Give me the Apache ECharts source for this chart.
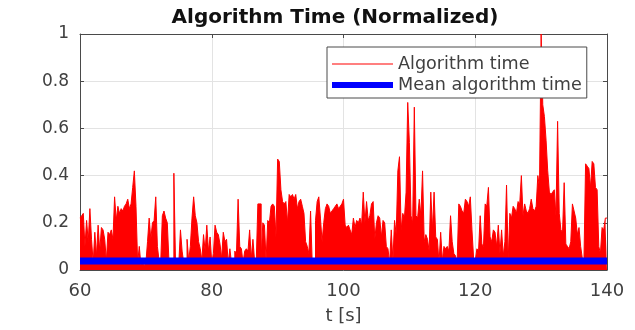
<!DOCTYPE html>
<html>
<head>
<meta charset="utf-8">
<title>Algorithm Time (Normalized)</title>
<script src="https://cdn.jsdelivr.net/npm/echarts@6/dist/echarts.min.js"></script>
<style>
  html, body { margin: 0; padding: 0; background: #fff; }
  #main { width: 635px; height: 330px; }
</style>
</head>
<body>
<div id="main"></div>
<script>
// sample grid of the trace (seconds)
const tStart = 60
const tStep = 0.25

// normalized algorithm time, one value per 0.25 s
const algTime = [
  0.22, 0.23, 0.24, 0.10, 0.21, 0.12, 0.26, 0.13, 0.03, 0.16, 0.06, 0.19, 0.08, 0.18, 0.17, 0.13, 0.04, 0.16, 0.15, 0.17,
  0.13, 0.31, 0.21, 0.27, 0.24, 0.26, 0.25, 0.27, 0.28, 0.30, 0.26, 0.28, 0.35, 0.42, 0.27, 0.03, 0.10, 0.02, 0.03, 0.02,
  0.03, 0.12, 0.22, 0.13, 0.20, 0.21, 0.31, 0.10, 0.04, 0.03, 0.23, 0.25, 0.22, 0.20, 0.04, 0.03, 0.03, 0.41, 0.03, 0.03,
  0.03, 0.17, 0.08, 0.03, 0.03, 0.13, 0.04, 0.10, 0.22, 0.31, 0.23, 0.20, 0.12, 0.09, 0.04, 0.15, 0.08, 0.19, 0.08, 0.14,
  0.03, 0.07, 0.19, 0.16, 0.15, 0.11, 0.05, 0.16, 0.12, 0.13, 0.03, 0.09, 0.03, 0.03, 0.08, 0.07, 0.30, 0.10, 0.09, 0.03,
  0.08, 0.09, 0.08, 0.17, 0.05, 0.13, 0.04, 0.03, 0.28, 0.28, 0.05, 0.20, 0.19, 0.04, 0.21, 0.20, 0.27, 0.28, 0.27, 0.14,
  0.47, 0.46, 0.34, 0.29, 0.28, 0.29, 0.20, 0.32, 0.31, 0.32, 0.30, 0.32, 0.26, 0.29, 0.30, 0.27, 0.24, 0.12, 0.10, 0.07,
  0.25, 0.03, 0.03, 0.21, 0.29, 0.31, 0.22, 0.12, 0.20, 0.26, 0.28, 0.27, 0.24, 0.25, 0.26, 0.27, 0.28, 0.26, 0.27, 0.28,
  0.30, 0.19, 0.18, 0.19, 0.17, 0.15, 0.22, 0.18, 0.21, 0.20, 0.22, 0.19, 0.33, 0.20, 0.29, 0.21, 0.23, 0.28, 0.29, 0.13,
  0.20, 0.23, 0.22, 0.14, 0.21, 0.20, 0.10, 0.09, 0.03, 0.17, 0.04, 0.21, 0.15, 0.42, 0.48, 0.17, 0.24, 0.22, 0.33, 0.71,
  0.54, 0.23, 0.20, 0.69, 0.23, 0.22, 0.30, 0.23, 0.42, 0.12, 0.15, 0.13, 0.08, 0.33, 0.17, 0.33, 0.14, 0.13, 0.03, 0.16,
  0.04, 0.10, 0.09, 0.10, 0.08, 0.23, 0.12, 0.07, 0.06, 0.03, 0.28, 0.27, 0.25, 0.24, 0.30, 0.29, 0.27, 0.31, 0.17, 0.05,
  0.04, 0.09, 0.08, 0.23, 0.11, 0.10, 0.28, 0.27, 0.35, 0.14, 0.12, 0.17, 0.16, 0.10, 0.19, 0.07, 0.17, 0.06, 0.12, 0.36,
  0.04, 0.24, 0.22, 0.27, 0.26, 0.24, 0.29, 0.28, 0.40, 0.23, 0.28, 0.25, 0.24, 0.26, 0.30, 0.26, 0.25, 0.27, 0.40, 0.35,
  1.00, 0.70, 0.65, 0.55, 0.42, 0.33, 0.32, 0.33, 0.34, 0.23, 0.63, 0.24, 0.17, 0.16, 0.37, 0.11, 0.10, 0.09, 0.12, 0.28,
  0.25, 0.22, 0.15, 0.18, 0.10, 0.05, 0.04, 0.45, 0.44, 0.43, 0.35, 0.46, 0.45, 0.35, 0.34, 0.10, 0.07, 0.18, 0.17, 0.22, 0.22
]

// mean line
const meanTime = 0.038
const meanRange = [60, 140]

// axes
const xTicks = [60, 80, 100, 120, 140]
const yTicks = [0, 0.2, 0.4, 0.6, 0.8, 1]

const font = 'DejaVu Sans'
const textColor = '#404040'
const boxColor = '#4a4a4a'

const algData = algTime.map((v, i) => [tStart + i * tStep, v])
const meanData = meanRange.map(t => [t, meanTime])

const myChart = echarts.init(document.getElementById('main'), null, { renderer: 'canvas' })

// the box round the plot: ticks on all four sides, labels only bottom/left
const xBase = {
  type: 'value',
  min: xTicks[0],
  max: xTicks[xTicks.length - 1],
  interval: xTicks[1] - xTicks[0],
  axisLine: { show: true, onZero: false, lineStyle: { color: boxColor, width: 1 } },
  axisTick: { show: true, inside: true, length: 4, lineStyle: { color: boxColor } }
}
const yBase = {
  type: 'value',
  min: yTicks[0],
  max: yTicks[yTicks.length - 1],
  interval: yTicks[1] - yTicks[0],
  axisLine: { show: true, onZero: false, lineStyle: { color: boxColor, width: 1 } },
  axisTick: { show: true, inside: true, length: 4, lineStyle: { color: boxColor } }
}

myChart.setOption({
  animation: false,
  textStyle: { fontFamily: font },
  title: {
    text: 'Algorithm Time (Normalized)',
    left: 330,
    textAlign: 'center',
    top: 3,
    textStyle: { fontFamily: font, fontSize: 20, fontWeight: 'bold', color: '#111' }
  },
  legend: {
    orient: 'vertical',
    left: 327,
    top: 47,
    padding: [8, 5, 4, 5],
    itemWidth: 61,
    itemHeight: 14,
    itemGap: 3,
    backgroundColor: '#fff',
    borderColor: boxColor,
    borderWidth: 1,
    borderRadius: 0,
    itemStyle: { borderWidth: 0 },
    textStyle: { fontFamily: font, fontSize: 17.6, color: textColor },
    data: [
      { name: 'Algorithm time', icon: 'path://M0,0H60V1H0Z' },
      { name: 'Mean algorithm time', icon: 'path://M0,0H60V6H0Z' }
    ]
  },
  grid: { left: 80, right: 28, top: 34, bottom: 60 },
  xAxis: [
    Object.assign({}, xBase, {
      position: 'bottom',
      name: 't [s]',
      nameLocation: 'middle',
      nameGap: 37,
      nameTextStyle: { fontFamily: font, fontSize: 18, color: textColor },
      axisLabel: { fontFamily: font, fontSize: 18, color: textColor, margin: 12 },
      splitLine: { show: true, lineStyle: { color: '#e3e3e3', width: 1 } }
    }),
    Object.assign({}, xBase, {
      position: 'top',
      axisLabel: { show: false },
      splitLine: { show: false }
    })
  ],
  yAxis: [
    Object.assign({}, yBase, {
      position: 'left',
      axisLabel: { fontFamily: font, fontSize: 17, color: textColor, margin: 11 },
      splitLine: { show: true, lineStyle: { color: '#e3e3e3', width: 1 } }
    }),
    Object.assign({}, yBase, {
      position: 'right',
      axisLabel: { show: false },
      splitLine: { show: false }
    })
  ],
  series: [
    {
      name: 'Algorithm time',
      type: 'line',
      step: 'end',
      symbol: 'none',
      xAxisIndex: 0,
      yAxisIndex: 0,
      itemStyle: { color: '#ff0000' },
      lineStyle: { color: '#ff0000', width: 1 },
      areaStyle: { color: '#ff0000', opacity: 1 },
      z: 2,
      data: algData
    },
    {
      name: 'Mean algorithm time',
      type: 'line',
      symbol: 'none',
      xAxisIndex: 0,
      yAxisIndex: 0,
      itemStyle: { color: '#0000ff' },
      lineStyle: { color: '#0000ff', width: 7 },
      z: 3,
      data: meanData
    }
  ]
})
</script>
</body>
</html>
